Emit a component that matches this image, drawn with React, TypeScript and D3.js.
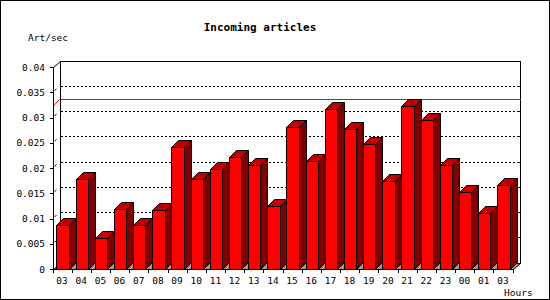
import React from "react";
import * as d3 from "d3";

const hours = ["03","04","05","06","07","08","09","10","11","12","13","14","15","16","17","18","19","20","21","22","23","00","01","03"];
const articlesPerSec = [0.0088,0.0178,0.0061,0.0118,0.0088,0.0116,0.0241,0.0178,0.0199,0.0221,0.0206,0.0125,0.0282,0.0213,0.0316,0.0277,0.0247,0.0175,0.0322,0.0296,0.0205,0.0152,0.0110,0.0166];
const yTicks = [0,0.005,0.01,0.015,0.02,0.025,0.03,0.035,0.04];
const yTickLabels = ["0","0.005","0.01","0.015","0.02","0.025","0.03","0.035","0.04"];
const markerValue = 0.0323;
const title = "Incoming articles";
const yTitle = "Art/sec";
const xTitle = "Hours";

const W = 550, H = 300;
const X0 = 52.5, X1 = 512.5, Y0 = 269, Y1 = 67;
const DX = 7, DY = 6.5;
const FONT = "'DejaVu Sans Mono', monospace";

export default function App() {
  const x = d3.scaleBand<number>().domain(hours.map((_, i) => i)).range([X0, X1]).paddingInner(0).paddingOuter(0);
  const y = d3.scaleLinear().domain([0, 0.04]).range([Y0, Y1]);
  const bw = x.bandwidth();
  const fw = bw * 0.65;
  const off = bw * 0.2;
  const r = (v: number) => Math.round(v) + 0.5;

  return (
    <svg width={W} height={H} style={{ display: "block" }} fontFamily={FONT}>
      <style>{`body{margin:0}`}</style>
      <rect x={0} y={0} width={W} height={H} fill="#fff" />
      <rect x={0.5} y={0.5} width={W - 1} height={H - 1} fill="none" stroke="#000" />
      <text x={260} y={31} textAnchor="middle" fontSize={11} fontWeight="bold">{title}</text>
      <text x={28} y={41} fontSize={9.5}>{yTitle}</text>
      <text x={504} y={296} fontSize={9.5}>{xTitle}</text>

      {/* back plane */}
      <rect x={r(X0 + DX)} y={r(Y1 - DY)} width={Math.round(X1 - X0)} height={Math.round(Y0 - Y1)} fill="#fff" stroke="#000" shapeRendering="crispEdges" />
      {yTicks.slice(1, -1).map((v, i) => (
        <line key={"g" + i} x1={r(X0 + DX)} x2={r(X1 + DX)} y1={r(y(v) - DY)} y2={r(y(v) - DY)} stroke="#000" strokeDasharray="2,2" shapeRendering="crispEdges" />
      ))}
      {yTicks.slice(1, -1).map((v, i) => (
        <line key={"rt" + i} x1={r(X1 + DX) - 3} x2={r(X1 + DX)} y1={r(y(v) - DY)} y2={r(y(v) - DY)} stroke="#000" shapeRendering="crispEdges" />
      ))}
      <line x1={r(X0 + DX)} x2={r(X1 + DX)} y1={r(y(markerValue) - DY)} y2={r(y(markerValue) - DY)} stroke="#f00" shapeRendering="crispEdges" />
      <line x1={X0 + 1} y1={y(markerValue)} x2={X0 + DX} y2={y(markerValue) - DY} stroke="#f00" />

      {/* floor */}
      <polygon points={`${r(X0)},${r(Y0)} ${r(X1)},${r(Y0)} ${r(X1 + DX)},${r(Y0 - DY)} ${r(X0 + DX)},${r(Y0 - DY)}`} fill="#999" stroke="#000" />

      {/* bars */}
      {articlesPerSec.map((v, i) => {
        const xl = r((x(i) as number) + off);
        const xr = r((x(i) as number) + off + fw);
        const yt = r(y(v));
        const yb = r(Y0);
        const xs = xr + DX, ts = yt - Math.round(DY), bs = yb - Math.round(DY);
        const xls = xl + DX;
        return (
          <g key={"b" + i} stroke="#000">
            <polygon points={`${xr},${yb} ${xs},${bs} ${xs},${ts} ${xr},${yt}`} fill="#800000" />
            <polygon points={`${xl},${yt} ${xls},${ts} ${xs},${ts} ${xr},${yt}`} fill="#c00000" />
            <rect x={xl} y={yt} width={xr - xl} height={yb - yt} fill="#ff0000" shapeRendering="crispEdges" />
          </g>
        );
      })}

      {/* front axes */}
      <line x1={r(X0)} x2={r(X0)} y1={r(Y1)} y2={r(Y0) + 3} stroke="#000" shapeRendering="crispEdges" />
      <line x1={r(X0)} y1={r(Y1)} x2={r(X0 + DX)} y2={r(Y1 - DY)} stroke="#000" />
      <line x1={r(X0)} x2={r(X1)} y1={r(Y0)} y2={r(Y0)} stroke="#000" shapeRendering="crispEdges" />
      {yTicks.map((v, i) => (
        <g key={"yt" + i}>
          <line x1={r(X0) - 4} x2={r(X0)} y1={r(y(v))} y2={r(y(v))} stroke="#000" shapeRendering="crispEdges" />
          {i > 0 && i < yTicks.length - 1 && (
            <line x1={X0 + 2} y1={y(v) - 1.5} x2={X0 + 4} y2={y(v) - 3.5} stroke="#000" />
          )}
          <text x={45} y={y(v) + 3.5} textAnchor="end" fontSize={9.5}>{yTickLabels[i]}</text>
        </g>
      ))}
      {hours.map((h, i) => (
        <g key={"xt" + i}>
          <line x1={r(x(i) as number)} x2={r(x(i) as number)} y1={r(Y0)} y2={r(Y0) + 3} stroke="#000" shapeRendering="crispEdges" />
          <text x={(x(i) as number) + bw / 2} y={284} textAnchor="middle" fontSize={9.5}>{h}</text>
        </g>
      ))}
      <line x1={r(X1)} x2={r(X1)} y1={r(Y0)} y2={r(Y0) + 3} stroke="#000" shapeRendering="crispEdges" />
    </svg>
  );
}
